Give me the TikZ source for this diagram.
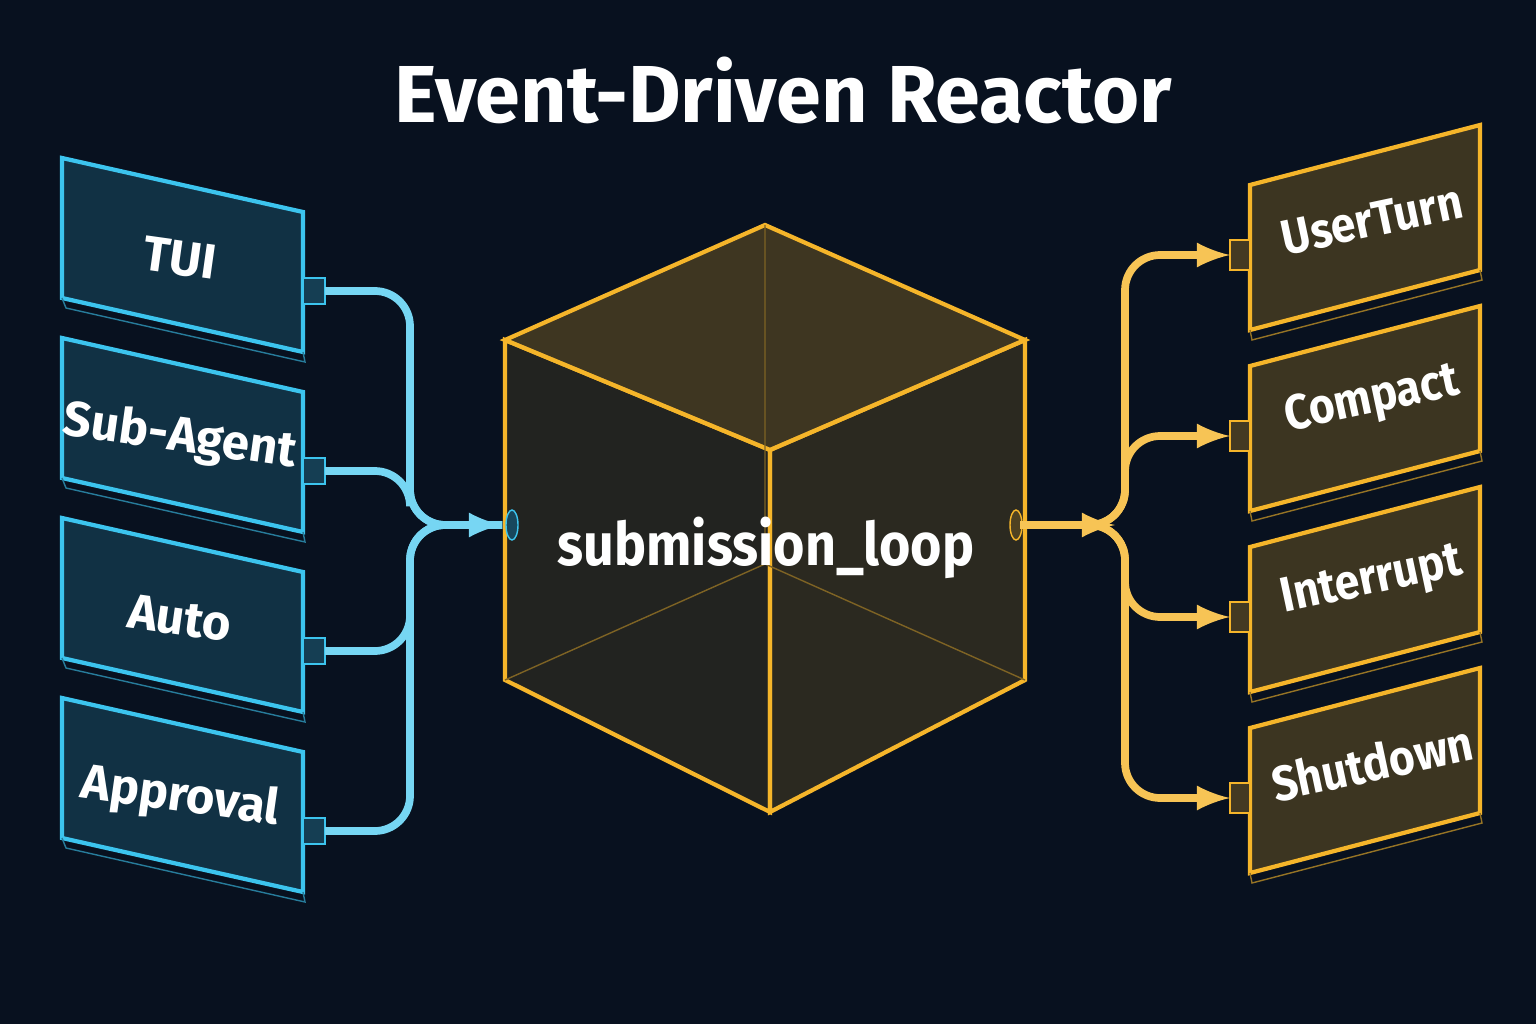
\documentclass[tikz,border=0pt]{standalone}
\usepackage{fontspec}
\setmainfont{Fira Sans}
\definecolor{bgnavy}{HTML}{08111F}
\definecolor{incyan}{HTML}{3CC4EE}
\definecolor{outamber}{HTML}{F5B52A}
\tikzset{
  inbox/.style={draw=incyan, line width=1.2pt, fill=incyan!18!bgnavy},
  outbox/.style={draw=outamber, line width=1.2pt, fill=outamber!22!bgnavy},
  inpipe/.style={draw=incyan!70!white, line width=2.2pt, rounded corners=10pt},
  outpipe/.style={draw=outamber!80!white, line width=2.2pt, rounded corners=10pt},
  boxtext/.style={text=white, font=\bfseries\fontsize{14}{17}\selectfont}
}
\begin{document}
\begin{tikzpicture}
    \fill[bgnavy] (0, 0) rectangle (15.36, 10.24);
    \useasboundingbox (0, 0) rectangle (15.36, 10.24);
    % title
    \node[text=white, font=\bfseries\fontsize{23}{27}\selectfont] (title) at (7.83, 9.34) {Event-Driven Reactor};
    % cube
    \filldraw[outbox, fill opacity=0.5] (5.05, 6.84) -- (7.70, 5.74) -- (7.70, 2.12) -- (5.05, 3.44) -- cycle;
    \filldraw[outbox, fill=outamber!30!bgnavy, fill opacity=0.5] (7.70, 5.74) -- (10.25, 6.84) -- (10.25, 3.44) -- (7.70, 2.12) -- cycle;
    \filldraw[outbox, fill=outamber!38!bgnavy, fill opacity=0.6] (7.65, 7.99) -- (10.25, 6.84) -- (7.70, 5.74) -- (5.05, 6.84) -- cycle;
    \draw[outamber!50!bgnavy, thin] (7.65, 7.99) -- (7.65, 4.60) -- (5.05, 3.44);
    \draw[outamber!50!bgnavy, thin] (7.65, 4.60) -- (10.25, 3.44);
    \node[text=white, font=\bfseries\fontsize{17}{20}\selectfont, xscale=0.9] (loop) at (7.66, 4.76) {submission\_loop};
    % ports of the cube
    \coordinate (inL) at (5.02, 4.99);
    \coordinate (outR) at (10.20, 4.99);
    \filldraw[incyan, fill=incyan!30!bgnavy] (5.12, 4.99) ellipse (0.06 and 0.15);
    \filldraw[outamber, fill=outamber!30!bgnavy] (10.16, 4.99) ellipse (0.06 and 0.15);
    % left sources
    \foreach \name/\txt [count=\i from 0] in {tui/TUI, sub/Sub-Agent, auto/Auto, appr/Approval} {
        \pgfmathsetmacro{\yt}{8.66 - 1.80*\i}
        \filldraw[inbox] (0.62, \yt) -- (3.03, \yt - 0.54) -- (3.03, \yt - 1.94) -- (0.62, \yt - 1.40) -- cycle;
        \draw[incyan!60!bgnavy] (0.62, \yt - 1.40) -- (0.66, \yt - 1.50) -- (3.05, \yt - 2.04) -- (3.03, \yt - 1.94);
        \node[boxtext, rotate=-8] (\name) at (1.80, \yt - 1.00) {\txt};
        \filldraw[incyan, fill=incyan!25!bgnavy] (3.03, \yt - 1.20) rectangle (3.25, \yt - 1.46);
        \coordinate (pl\i) at (3.25, \yt - 1.33);
    }
    \foreach \i in {0, 1, 2, 3} {
        \draw[inpipe] (pl\i) -- (4.10, 0 |- pl\i) |- (inL);
    }
    \draw[-latex, incyan!70!white, line width=2.2pt] (4.60, 4.99) -- (inL);
    % right outputs
    \foreach \name/\txt [count=\i from 0] in {user/UserTurn, comp/Compact, intr/Interrupt, shut/Shutdown} {
        \pgfmathsetmacro{\yt}{8.39 - 1.81*\i}
        \filldraw[outbox] (12.50, \yt) -- (14.80, \yt + 0.60) -- (14.80, \yt - 0.85) -- (12.50, \yt - 1.45) -- cycle;
        \draw[outamber!60!bgnavy] (12.50, \yt - 1.45) -- (12.52, \yt - 1.55) -- (14.82, \yt - 0.95) -- (14.80, \yt - 0.85);
        \node[boxtext, rotate=12, xscale=0.9] (\name) at (13.72, \yt - 0.35) {\txt};
        \filldraw[outamber, fill=outamber!25!bgnavy] (12.30, \yt - 0.55) rectangle (12.50, \yt - 0.85);
        \coordinate (pr\i) at (12.30, \yt - 0.70);
    }
    \foreach \i in {0, 1, 2, 3} {
        \draw[outpipe, -latex] (outR) -- (11.25, 4.99) |- (pr\i);
    }
    \draw[-latex, outamber!80!white, line width=2.2pt] (outR) -- (11.15, 4.99);
\end{tikzpicture}
\end{document}
